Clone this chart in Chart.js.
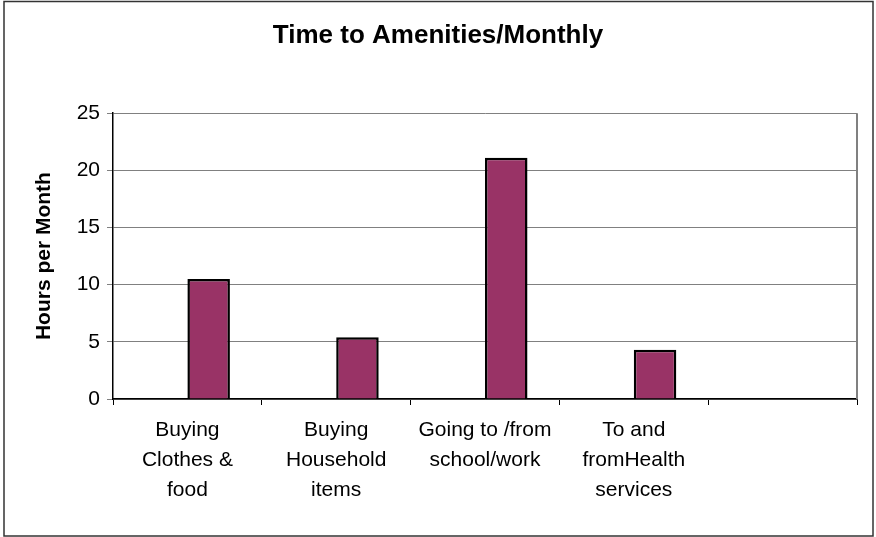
<!DOCTYPE html>
<html>
<head>
<meta charset="utf-8">
<script src="https://cdn.jsdelivr.net/npm/chart.js@4/dist/chart.umd.min.js"></script>
<style>
    html, body { margin: 0; padding: 0; background: #fff; }
    #wrap { width: 876px; height: 537px; }
</style>
</head>
<body>
<div id="wrap"><canvas id="chart" width="876" height="537"></canvas></div>
<script>
// Categorias (rótulos em várias linhas)
const categories = [
    ['Buying', 'Clothes &', 'food'],
    ['Buying', 'Household', 'items'],
    ['Going to /from', 'school/work'],
    ['To and', 'fromHealth', 'services'],
    ''
];
// Série vazia (ocupa a primeira posição do grupo, como no original)
const emptySeries = [null, null, null, null, null];
// Horas por mês
const hoursPerMonth = [10.5, 5.4, 21.1, 4.3, null];
const yTicks = [0, 5, 10, 15, 20, 25];

// Moldura externa e borda direita da área do gráfico
const framePlugin = {
    id: 'frame',
    afterDraw(chart) {
        const ctx = chart.ctx;
        const a = chart.chartArea;
        ctx.save();
        ctx.strokeStyle = '#808080';
        ctx.lineWidth = 2;
        ctx.beginPath();
        ctx.moveTo(a.right, a.top);
        ctx.lineTo(a.right, a.bottom);
        ctx.stroke();
        ctx.strokeStyle = '#333';
        ctx.lineWidth = 1.5;
        ctx.strokeRect(4, 1.5, chart.width - 7, chart.height - 2.5);
        ctx.restore();
    }
};

new Chart(document.getElementById('chart'), {
    type: 'bar',
    data: {
        labels: categories,
        datasets: [{
            data: emptySeries,
            backgroundColor: '#9999ff'
        }, {
            data: hoursPerMonth,
            backgroundColor: '#993366',
            borderColor: '#000',
            borderWidth: 2.5
        }]
    },
    options: {
        responsive: false,
        animation: false,
        layout: { padding: { left: 19, right: 19, top: 0, bottom: 0 } },
        categoryPercentage: 2 / 3.5,
        barPercentage: 1,
        plugins: {
            legend: { display: false },
            tooltip: { enabled: false },
            title: {
                display: true,
                text: 'Time to Amenities/Monthly',
                color: '#000',
                font: { family: 'Liberation Sans', size: 26, weight: 'bold', lineHeight: 1.2 },
                padding: { top: 20, bottom: 62 }
            }
        },
        scales: {
            x: {
                afterFit(scale) { scale.height = 138; },
                grid: {
                    offset: true,
                    drawOnChartArea: false,
                    color: '#000',
                    tickLength: 6
                },
                border: { color: '#000', width: 1.5 },
                ticks: {
                    color: '#000',
                    padding: 10,
                    maxRotation: 0,
                    autoSkip: false,
                    font: { family: 'Liberation Sans', size: 21, lineHeight: 1.43 }
                }
            },
            y: {
                min: 0,
                max: 25,
                afterFit(scale) { scale.width = 94; },
                afterBuildTicks(scale) { scale.ticks = yTicks.map(v => ({ value: v })); },
                grid: { color: '#808080', lineWidth: 1, tickLength: 6 },
                border: { color: '#000', width: 1.5 },
                ticks: {
                    color: '#000',
                    padding: 7,
                    font: { family: 'Liberation Sans', size: 21 }
                },
                title: {
                    display: true,
                    text: 'Hours per Month',
                    color: '#000',
                    font: { family: 'Liberation Sans', size: 21, weight: 'bold', lineHeight: 1.2 },
                    padding: { top: 13, bottom: 0 }
                }
            }
        }
    },
    plugins: [framePlugin]
});
</script>
</body>
</html>
